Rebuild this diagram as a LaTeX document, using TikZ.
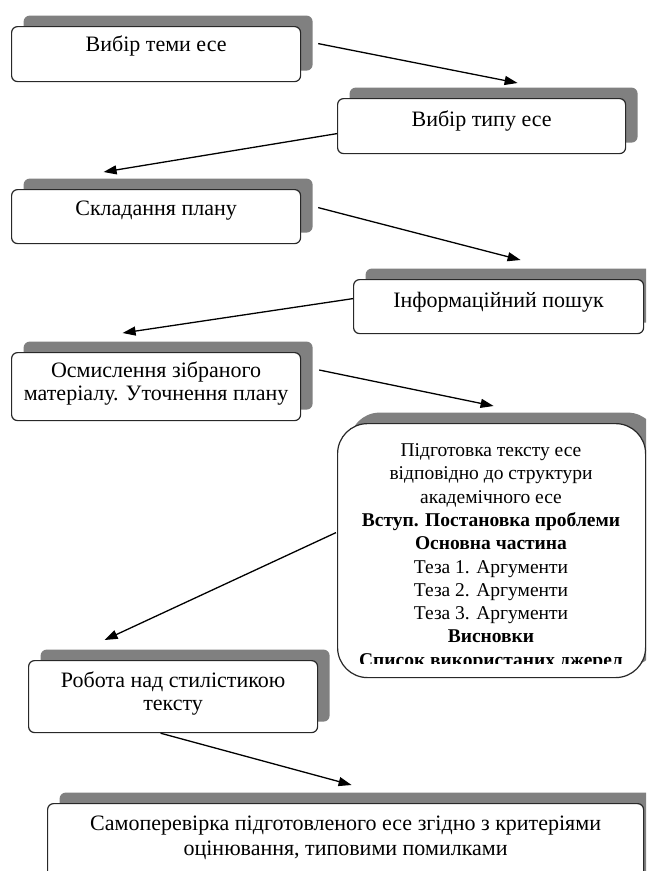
\documentclass[tikz,border=0pt]{standalone}
\usepackage{fontspec}
\setmainfont{Liberation Serif}
\usetikzlibrary{positioning,shadows,arrows.meta,calc}
\definecolor{shadowgray}{RGB}{128,128,128}
\definecolor{edgegray}{RGB}{40,40,40}

\begin{document}
\begin{tikzpicture}[
    x=1pt, y=-1pt,
    box/.style={rectangle, rounded corners=6pt, draw=edgegray, line width=1.2pt, fill=white, anchor=north west, align=center, inner xsep=0pt, inner ysep=0pt, font=\fontsize{22}{23}\selectfont, general shadow={fill=shadowgray, shadow xshift=12pt, shadow yshift=11pt}},
    arr/.style={-{Triangle[length=13pt,width=9pt]}, line width=1.3pt}
]
\useasboundingbox (0,0) rectangle (646,871);
\clip (0,0) rectangle (646,871);

\node[box, minimum width=289pt, text height=25pt, text depth=30pt] (b1) at (11,26) {Вибір теми есе};
\node[box, minimum width=288pt, text height=27.5pt, text depth=27.5pt] (b2) at (337,98) {Вибір типу есе};
\node[box, minimum width=289pt, text height=26pt, text depth=28pt] (b3) at (11,189) {Складання плану};
\node[box, minimum width=290pt, text height=27.5pt, text depth=26.5pt] (b4) at (353,279) {Інформаційний пошук};
\node[box, minimum width=289pt, text height=48pt, text depth=20pt] (b5) at (11,352) {Осмислення зібраного\\матеріалу. Уточнення плану};
\node[box, minimum width=308pt, minimum height=254pt, rounded corners=30pt] (b6) at (337,423) {};
\begin{scope}
  \clip (337,423) rectangle (645,663);
  \node[anchor=north, align=center, inner sep=0pt, text height=226pt, font=\fontsize{19.5}{23.3}\selectfont] (t6) at (491,440)
    {Підготовка тексту есе\\відповідно до структури\\академічного есе\\\textbf{Вступ. Постановка проблеми}\\\textbf{Основна частина}\\Теза 1. Аргументи\\Теза 2. Аргументи\\Теза 3. Аргументи\\\textbf{Висновки}\\\textbf{Список використаних джерел}};
\end{scope}
\node[box, minimum width=289pt, text height=50pt, text depth=22pt] (b7) at (28,660) {Робота над стилістикою\\тексту};
\node[box, minimum width=596pt, text height=52pt, text depth=40pt, font=\fontsize{22}{25}\selectfont] (b8) at (47,803) {Самоперевірка підготовленого есе згідно з критеріями\\оцінювання, типовими помилками};

\draw[arr] ($(b1.east)+(17,-10.5)$) -- ($(b2.north)+(36,-15)$);
\draw[arr] ($(b2.west)+(0,7.5)$) -- ($(b3.north)+(-52.5,-17)$);
\draw[arr] ($(b3.east)+(17,-9)$) -- ($(b4.north)+(22,-19)$);
\draw[arr] ($(b4.west)+(0,-8)$) -- ($(b5.north)+(-33.5,-19)$);
\draw[arr] ($(b5.north east)+(18,18)$) -- ($(b6.north)+(2,-17)$);
\draw[arr] ($(b6.west)+(-1,-18)$) -- ($(b7.north)+(-68.5,-20)$);
\draw[arr] ($(b7.south)+(-12.5,0)$) -- ($(b8.north)+(6,-18)$);

\end{tikzpicture}
\end{document}
